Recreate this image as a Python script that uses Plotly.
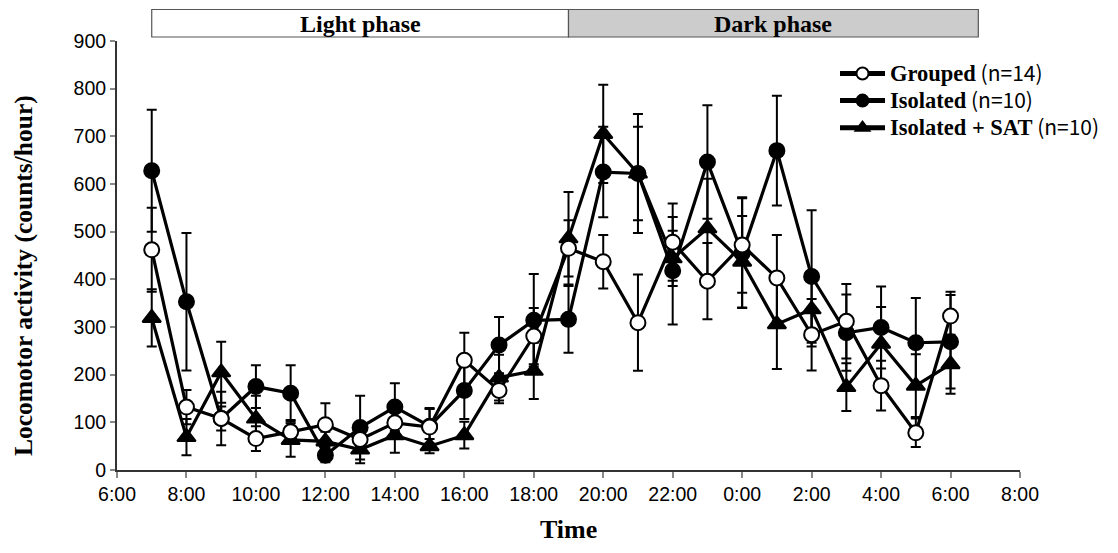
import plotly.graph_objects as go

# ---- data ----
hours = list(range(7, 31))  # 7:00 .. 6:00 next day (hours since 0:00 of day 1)

grouped = [462, 132, 108, 66, 80, 95, 64, 99, 90, 230, 167, 281,
           465, 437, 309, 478, 396, 472, 403, 284, 312, 177, 78, 323]
grouped_err = [88, 36, 25, 26, 25, 45, 25, 30, 40, 58, 27, 59,
               59, 56, 101, 81, 80, 100, 90, 75, 78, 52, 30, 51]

isolated = [628, 353, 108, 175, 161, 31, 89, 132, 92, 167, 262, 314,
            316, 625, 622, 418, 646, 455, 670, 406, 288, 299, 267, 269]
isolated_err = [128, 144, 56, 45, 59, 15, 67, 50, 36, 60, 59, 97,
                70, 95, 125, 113, 119, 115, 115, 139, 80, 86, 94, 98]

sat = [319, 69, 205, 108, 63, 60, 43, 73, 50, 73, 194, 208,
       486, 705, 622, 444, 507, 437, 306, 337, 174, 265, 177, 222]
sat_err = [60, 38, 64, 48, 35, 20, 29, 37, 15, 28, 48, 59,
           97, 103, 98, 58, 104, 96, 94, 78, 50, 77, 66, 62]

tick_vals = list(range(6, 33, 2))
tick_text = ["6:00", "8:00", "10:00", "12:00", "14:00", "16:00", "18:00",
             "20:00", "22:00", "0:00", "2:00", "4:00", "6:00", "8:00"]

y_ticks = list(range(0, 901, 100))

light_phase = (7, 19)
dark_phase = (19, 30.8)

SERIF = "Liberation Serif, Times New Roman, serif"
SANS = "Liberation Sans, Arial, sans-serif"
MAIN = "font-size:22.5px"
PAREN = "font-family:'Noto Sans CJK JP';font-weight:normal;font-size:21px"

# page has an 8px body margin around the figure
OFF = 8
W, H = 1118 - 2 * OFF, 553 - 2 * OFF
L, T = 117 - OFF, 41 - OFF
R = W - (1020 - OFF)
B = H - (470 - OFF)
pw, ph = W - L - R, H - T - B


def px(page_x):
    return (page_x - OFF - L) / pw


def py(page_y):
    return (T + ph - (page_y - OFF)) / ph


def label(main, n):
    return (f"<span style=\"{MAIN}\"><b>{main}</b></span>"
            f"<span style=\"{PAREN}\"> (n={n})</span>")


fig = go.Figure()


def add_series(y, err, name, symbol, fill, size):
    fig.add_trace(go.Scatter(
        x=hours, y=y, name=name, mode="lines+markers",
        line=dict(color="black", width=3.2),
        marker=dict(symbol=symbol, size=size, color=fill,
                    line=dict(color="black", width=2)),
        error_y=dict(type="data", array=err, visible=True,
                     color="black", thickness=2, width=5),
    ))


add_series(sat, sat_err, label("Isolated + SAT", 10), "triangle-up", "black", 16)
add_series(isolated, isolated_err, label("Isolated", 10), "circle", "black", 15)
add_series(grouped, grouped_err, label("Grouped", 14), "circle", "white", 15)

# phase boxes
fig.add_shape(type="rect", xref="x", yref="paper",
              x0=light_phase[0], x1=light_phase[1], y0=py(37), y1=py(9.5),
              fillcolor="white", line=dict(color="#555555", width=1.2))
fig.add_shape(type="rect", xref="x", yref="paper",
              x0=dark_phase[0], x1=dark_phase[1], y0=py(37), y1=py(9.5),
              fillcolor="#cccccc", line=dict(color="#555555", width=1.2))
fig.add_annotation(x=sum(light_phase) / 2, y=py(24), xref="x", yref="paper",
                   xanchor="center", yanchor="middle",
                   text="<b>Light phase</b>", showarrow=False,
                   font=dict(family=SERIF, size=24, color="black"))
fig.add_annotation(x=sum(dark_phase) / 2, y=py(24), xref="x", yref="paper",
                   xanchor="center", yanchor="middle",
                   text="<b>Dark phase</b>", showarrow=False,
                   font=dict(family=SERIF, size=24, color="black"))

# axis titles
fig.add_annotation(x=px(23), y=py(276), xref="paper", yref="paper",
                   xanchor="center", yanchor="middle",
                   text="<b>Locomotor activity (counts/hour)</b>",
                   showarrow=False, textangle=-90,
                   font=dict(family=SERIF, size=25.5, color="black"))
fig.add_annotation(x=px(568), y=py(529), xref="paper", yref="paper",
                   xanchor="center", yanchor="middle",
                   text="<b>Time</b>", showarrow=False,
                   font=dict(family=SERIF, size=26, color="black"))

fig.update_layout(
    width=W, height=H,
    margin=dict(l=L, r=R, t=T, b=B, autoexpand=False),
    paper_bgcolor="white", plot_bgcolor="white",
    showlegend=True,
    legend=dict(x=px(835), y=py(55), xanchor="left", yanchor="top",
                bgcolor="rgba(0,0,0,0)", traceorder="reversed",
                font=dict(family=SERIF, size=18.5, color="black"),
                itemwidth=45, itemsizing="constant", tracegroupgap=0),
    xaxis=dict(range=[6, 32], tickvals=tick_vals, ticktext=tick_text,
               showgrid=False, zeroline=False, showline=True,
               linecolor="#333333", linewidth=2,
               ticks="outside", ticklen=6, tickcolor="#888888", tickwidth=2,
               tickfont=dict(family=SANS, size=19.5, color="black")),
    yaxis=dict(range=[0, 900], tickvals=y_ticks,
               showgrid=False, zeroline=False, showline=True,
               linecolor="#333333", linewidth=2,
               ticks="outside", ticklen=5, tickcolor="#888888", tickwidth=2,
               tickfont=dict(family=SANS, size=19.5, color="black")),
)

fig.write_html("out.html")
